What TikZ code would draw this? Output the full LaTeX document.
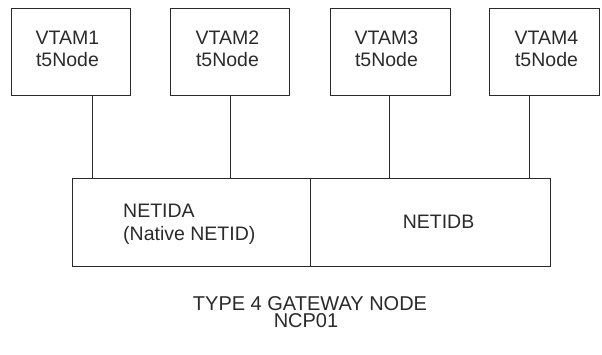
\documentclass[tikz,border=0pt]{standalone}
\usepackage{fontspec}
\setmainfont{Liberation Sans}
\definecolor{ink}{HTML}{2A2A2A}
\begin{document}
\begin{tikzpicture}[x=1pt,y=-1pt,
  boxshape/.style={draw=ink,line width=0.9pt,rectangle,inner sep=0pt},
  lbl/.style={text=ink,inner sep=0pt,font=\fontsize{19.5}{22.7}\selectfont,align=center},
  conn/.style={draw=ink,line width=0.9pt}]
\useasboundingbox (0,0) rectangle (602,354);
% VTAM boxes
\node[boxshape,minimum width=119pt,minimum height=87pt] (v1) at (70.5,51.5) {};
\node[boxshape,minimum width=119pt,minimum height=87pt] (v2) at (229.5,51.5) {};
\node[boxshape,minimum width=120pt,minimum height=87pt] (v3) at (390,51.5) {};
\node[boxshape,minimum width=110pt,minimum height=87pt] (v4) at (544,51.5) {};
\node[lbl,anchor=base] (t1) at (67.5,66.7) {VTAM1\\t5Node};
\node[lbl,anchor=base] (t2) at (227.5,66.7) {VTAM2\\t5Node};
\node[lbl,anchor=base] (t3) at (386.5,66.7) {VTAM3\\t5Node};
\node[lbl,anchor=base] (t4) at (546.5,66.7) {VTAM4\\t5Node};
% gateway boxes
\node[boxshape,minimum width=238pt,minimum height=88pt] (na) at (191,222) {};
\node[boxshape,minimum width=240pt,minimum height=88pt] (nb) at (430,222) {};
\node[lbl,align=left,anchor=base west] (ta) at (123,240) {NETIDA\\(Native NETID)};
\node[lbl,anchor=base] (tb) at (438.5,228) {NETIDB};
% connection points
\coordinate (c1) at (92,178);
\coordinate (c2) at (230,178);
\coordinate (c3) at (389,178);
\coordinate (c4) at (529,178);
\draw[conn] (v1.south -| c1) -- (c1);
\draw[conn] (v2.south -| c2) -- (c2);
\draw[conn] (v3.south -| c3) -- (c3);
\draw[conn] (v4.south -| c4) -- (c4);
% title
\node[lbl,font=\fontsize{20}{17}\selectfont,anchor=base] (title1) at (310,310.5) {TYPE 4 GATEWAY NODE};
\node[lbl,font=\fontsize{20}{17}\selectfont,anchor=base] (title2) at (306,327) {NCP01};
\end{tikzpicture}
\end{document}
